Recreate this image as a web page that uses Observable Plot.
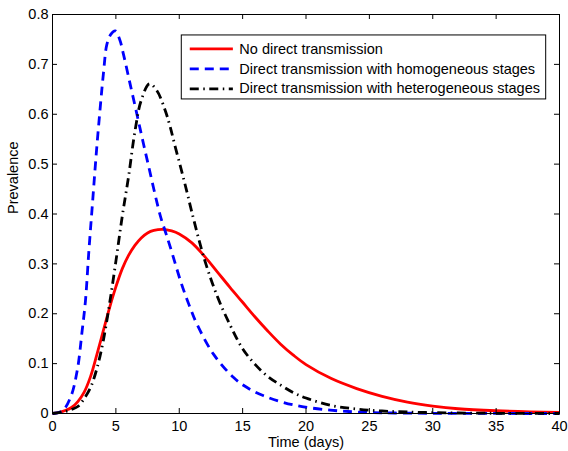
<!DOCTYPE html>
<html><head><meta charset="utf-8">
<script src="https://cdn.jsdelivr.net/npm/d3@7"></script>
<script src="https://cdn.jsdelivr.net/npm/@observablehq/plot@0.6"></script>
<style>body{margin:0;background:#fff}</style>
</head><body><div id="chart"></div>
<script>
// ---- data ----
const seriesNames = ["No direct transmission", "Direct transmission with homogeneous stages", "Direct transmission with heterogeneous stages"];
const seriesColors = ["#ff0000", "#0000ff", "#000000"];
const seriesDash = [null, "9,6", "9,4.5,1.5,4.5"];

const redX = [0, 0.5, 1, 1.5, 2, 2.5, 3, 3.5, 4, 4.5, 5, 5.5, 6, 6.5, 7, 7.5, 8, 8.7, 9.4, 10, 11, 12, 13, 14, 15, 16, 17, 18, 19, 20, 22, 24, 26, 28, 30, 32, 35, 40];
const redY = [0, 0.002, 0.006, 0.012, 0.024, 0.043, 0.074, 0.118, 0.165, 0.212, 0.254, 0.290, 0.317, 0.337, 0.352, 0.362, 0.367, 0.369, 0.366, 0.360, 0.342, 0.315, 0.284, 0.253, 0.223, 0.193, 0.165, 0.139, 0.117, 0.098, 0.070, 0.050, 0.0345, 0.023, 0.015, 0.0095, 0.0055, 0.002];

const blueX = [0, 0.77, 1.42, 1.95, 2.34, 2.6, 2.87, 3.15, 3.45, 3.77, 4.03, 4.29, 4.6, 4.95, 5.3, 5.6, 6.13, 6.66, 7.06, 7.5, 8.5, 8.9, 9.3, 10.15, 10.8, 11.4, 12.7, 14.29, 15.35, 16.66, 18.24, 19.8, 21.9, 24, 27, 40];
const blueY = [0, 0.005, 0.032, 0.086, 0.166, 0.226, 0.326, 0.42, 0.52, 0.615, 0.685, 0.74, 0.76, 0.767, 0.75, 0.72, 0.66, 0.60, 0.554, 0.505, 0.397, 0.365, 0.333, 0.262, 0.216, 0.179, 0.119, 0.072, 0.052, 0.0355, 0.022, 0.0134, 0.0068, 0.003, 0.001, 0];

const blackX = [0, 1, 1.5, 2, 2.5, 3, 3.5, 4, 4.5, 5, 5.5, 6, 6.5, 7, 7.65, 8.24, 8.9, 9.29, 9.71, 10.2, 10.6, 11, 12, 13, 14, 15, 16, 17, 18, 19, 20, 22, 24, 26, 28, 32, 40];
const blackY = [0, 0.004, 0.008, 0.014, 0.030, 0.052, 0.090, 0.145, 0.220, 0.305, 0.395, 0.475, 0.565, 0.628, 0.661, 0.647, 0.607, 0.574, 0.532, 0.485, 0.445, 0.403, 0.308, 0.235, 0.178, 0.130, 0.098, 0.074, 0.057, 0.042, 0.031, 0.016, 0.009, 0.005, 0.003, 0.001, 0];

const xTicks = [0, 5, 10, 15, 20, 25, 30, 35, 40];
const yTicks = [0, 0.1, 0.2, 0.3, 0.4, 0.5, 0.6, 0.7, 0.8];
const xLabel = "Time (days)";
const yLabel = "Prevalence";

// ---- build ----
const xs = [redX, blueX, blackX], ys = [redY, blueY, blackY];
const series = seriesNames.map((name, i) => xs[i].map((x, j) => ({name, x, y: ys[i][j]})));

const W = 568, H = 451, mL = 52, mR = 9, mT = 14, mB = 38;
const plotH = H - mT - mB, plotW = W - mL - mR, tickLen = 5;

// legend layout (in data units)
const lgBox = {x1: 10.2, x2: 38.95, y1: 0.6297, y2: 0.758};
const lgRows = seriesNames.map((name, i) => ({name, i, y: 0.731 - i * 0.04}));
const lgLineX1 = 10.87, lgLineX2 = 14.27, lgTextX = 14.74;

const lineMarks = series.map((data, i) => Plot.line(data, {
  x: "x", y: "y", stroke: seriesColors[i], strokeWidth: 2.8,
  strokeDasharray: seriesDash[i], curve: "catmull-rom", strokeLinecap: "butt", strokeLinejoin: "round"
}));

const chart = Plot.plot({
  width: W, height: H, marginLeft: mL, marginRight: mR, marginTop: mT, marginBottom: mB,
  style: {fontFamily: "'Liberation Sans', Arial, Helvetica, sans-serif", fontSize: "14.5px", color: "black", background: "white"},
  x: {domain: [0, 40]},
  y: {domain: [0, 0.8]},
  marks: [
    ...lineMarks,
    Plot.frame({stroke: "black", strokeWidth: 1}),
    Plot.ruleX(xTicks.slice(1, -1), {x: d => d, insetTop: plotH - tickLen, stroke: "black"}),
    Plot.ruleX(xTicks.slice(1, -1), {x: d => d, insetBottom: plotH - tickLen, stroke: "black"}),
    Plot.ruleY(yTicks.slice(1, -1), {y: d => d, insetRight: plotW - tickLen, stroke: "black"}),
    Plot.ruleY(yTicks.slice(1, -1), {y: d => d, insetLeft: plotW - tickLen, stroke: "black"}),
    Plot.axisX({ticks: xTicks, tickSize: 0, tickPadding: 7, tickFormat: d => String(d), label: null, fill: "black"}),
    Plot.axisY({ticks: yTicks, tickSize: 0, tickPadding: 4, tickFormat: d => d === 0 ? "0" : d.toFixed(1), label: null, fill: "black"}),
    Plot.text([xLabel], {frameAnchor: "bottom", dy: 29, text: d => d, lineAnchor: "middle", fill: "black"}),
    Plot.text([yLabel], {frameAnchor: "left", dx: -39, rotate: -90, text: d => d, lineAnchor: "middle", fill: "black"}),
    // legend
    Plot.rect([lgBox], {x1: "x1", x2: "x2", y1: "y1", y2: "y2", fill: "white", stroke: "black", strokeWidth: 1}),
    ...lgRows.map(r => Plot.ruleY([r], {y: "y", x1: lgLineX1, x2: lgLineX2, stroke: seriesColors[r.i], strokeWidth: 2.8, strokeDasharray: seriesDash[r.i]})),
    Plot.text(lgRows, {x: lgTextX, y: "y", text: "name", textAnchor: "start", lineAnchor: "middle", fill: "black"})
  ]
});
document.getElementById("chart").appendChild(chart);
</script>
</body></html>
